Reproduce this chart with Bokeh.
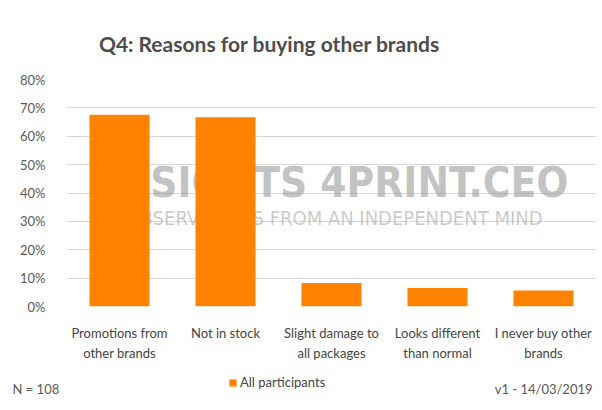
from bokeh.plotting import figure
from bokeh.models import (ColumnDataSource, NumeralTickFormatter, FixedTicker, Label,
                          Legend, LegendItem, Range1d)
from bokeh.embed import file_html
from bokeh.resources import INLINE

# ---- data ----
categories = ["Promotions from\nother brands", "Not in stock", "Slight damage to\nall packages",
              "Looks different\nthan normal", "I never buy other\nbrands"]
shares = [0.676, 0.667, 0.083, 0.065, 0.056]
y_ticks = [0.0, 0.1, 0.2, 0.3, 0.4, 0.5, 0.6, 0.7, 0.8]
series_name = "All participants"
title_text = "Q4: Reasons for buying other brands"
note_left = "N = 108"
note_right = "v1 - 14/03/2019"
watermark_1 = "INSIGHTS 4PRINT.CEO"
watermark_2 = "OBSERVATIONS FROM AN INDEPENDENT MIND"

ORANGE = "#FF8200"
FONT = "Lato"
WM_FONT = "DejaVu Sans Condensed, Roboto, sans-serif"
W = 598


def strip(height):
    s = figure(width=W, height=height, x_range=Range1d(0, W), y_range=Range1d(0, height),
               x_axis_type=None, y_axis_type=None,
               output_backend="svg", toolbar_location=None,
               min_border=0, min_border_left=0, min_border_right=0,
               min_border_top=0, min_border_bottom=0)
    s.outline_line_color = None
    s.grid.visible = False
    s.title.visible = False
    return s


# ---- header strip: title ----
HH = 69
h = strip(HH)
h.add_layout(Label(x=269, y=HH - 43, x_units="screen", y_units="screen", text=title_text,
                   text_align="center", text_baseline="middle", text_font=FONT,
                   text_font_style="bold", text_font_size="21px", text_color="#4d4d4d"))

# ---- main chart ----
src = ColumnDataSource(dict(cat=categories, share=shares))
p = figure(x_range=categories, y_range=Range1d(0, 0.8), width=W, height=301,
           output_backend="svg", toolbar_location=None,
           min_border_left=66, min_border_right=2, min_border_top=10, min_border_bottom=64)
p.outline_line_color = None
p.title.visible = False

# watermark (behind bars)
p.add_layout(Label(x=270, y=124, x_units="screen", y_units="screen", text=watermark_1,
                   text_align="center", text_baseline="alphabetic",
                   text_font=WM_FONT, text_font_style="bold",
                   text_font_size="42px", text_color="#9a9a9a", text_alpha=0.6,
                   level="underlay"))
p.add_layout(Label(x=268, y=89, x_units="screen", y_units="screen", text=watermark_2,
                   text_align="center", text_baseline="alphabetic",
                   text_font=WM_FONT,
                   text_font_size="20px", text_color="#a8a8a8", text_alpha=0.6,
                   level="underlay"))

r = p.vbar(x="cat", top="share", width=0.566, source=src, fill_color=ORANGE, line_color=None)

p.xgrid.visible = False
p.ygrid.ticker = FixedTicker(ticks=y_ticks)
p.ygrid.grid_line_color = "#d9d9d9"

p.yaxis.ticker = FixedTicker(ticks=y_ticks)
p.yaxis.formatter = NumeralTickFormatter(format="0%")
p.yaxis.axis_line_color = None
p.yaxis.major_tick_line_color = None
p.yaxis.minor_tick_line_color = None
p.yaxis.major_label_standoff = 15
p.yaxis.major_label_text_font = FONT
p.yaxis.major_label_text_font_size = "13px"
p.yaxis.major_label_text_color = "#595959"

p.xaxis.axis_line_color = None
p.xaxis.major_tick_line_color = None
p.xaxis.major_label_standoff = 12
p.xaxis.major_label_text_font = FONT
p.xaxis.major_label_text_font_size = "13px"
p.xaxis.major_label_text_color = "#444444"
p.xaxis.major_label_text_line_height = 1.3

# ---- footer strip: legend and notes ----
FH = 32
f = strip(FH)
proxy = f.vbar(x=[0], top=[0], width=0, fill_color=ORANGE, line_color=None)
legend = Legend(items=[LegendItem(label=series_name, renderers=[proxy])],
                location=(228, 12), orientation="horizontal",
                glyph_width=9, glyph_height=9, label_standoff=3, padding=0, margin=0,
                spacing=0, border_line_color=None, background_fill_alpha=0,
                label_text_font=FONT, label_text_font_size="13px",
                label_text_color="#444444")
f.add_layout(legend)
f.add_layout(Label(x=12, y=14, x_units="screen", y_units="screen", text=note_left,
                   text_align="left", text_baseline="middle", text_font=FONT,
                   text_font_size="13px", text_color="#595959"))
f.add_layout(Label(x=592, y=14, x_units="screen", y_units="screen", text=note_right,
                   text_align="right", text_baseline="middle", text_font=FONT,
                   text_font_size="13px", text_color="#595959"))

open("out.html", "w").write(file_html([h, p, f], INLINE))
